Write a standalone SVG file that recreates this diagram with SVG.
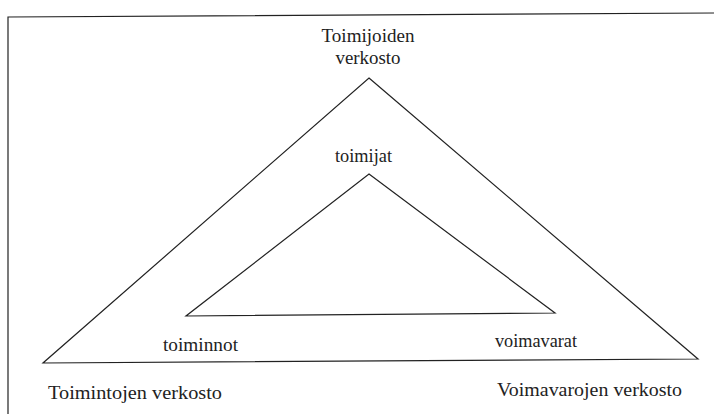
<svg xmlns="http://www.w3.org/2000/svg" width="714" height="414" viewBox="0 0 714 414">
<style>
.ln{fill:none;stroke:#222;stroke-width:1.2;stroke-linejoin:miter}
text{font-family:'Liberation Serif','DejaVu Serif',serif;font-size:18px;fill:#222}
.m{text-anchor:middle}
</style>
<rect width="714" height="414" fill="#fff"/>
<g id="frame">
<polyline class="ln" points="8,414 8,17 714,13"/>
</g>
<g id="connectors">
<polygon id="outer-triangle" class="ln" points="369,78 698,359 43,363"/>
<polygon id="inner-triangle" class="ln" points="369,174 555,313 186,316"/>
</g>
<g id="node-toimijoiden">
<text class="m" x="368" y="42" textLength="93" lengthAdjust="spacingAndGlyphs">Toimijoiden</text>
<text class="m" x="368" y="64" textLength="65" lengthAdjust="spacingAndGlyphs">verkosto</text>
</g>
<g id="node-toimijat">
<text x="335" y="162" textLength="57" lengthAdjust="spacingAndGlyphs">toimijat</text>
</g>
<g id="node-toiminnot">
<text x="163" y="351" textLength="75" lengthAdjust="spacingAndGlyphs">toiminnot</text>
</g>
<g id="node-voimavarat">
<text x="495" y="347" textLength="82" lengthAdjust="spacingAndGlyphs">voimavarat</text>
</g>
<g id="node-toimintojen">
<text x="48" y="399" textLength="174" lengthAdjust="spacingAndGlyphs">Toimintojen verkosto</text>
</g>
<g id="node-voimavarojen">
<text x="497" y="396" textLength="185" lengthAdjust="spacingAndGlyphs">Voimavarojen verkosto</text>
</g>
</svg>
